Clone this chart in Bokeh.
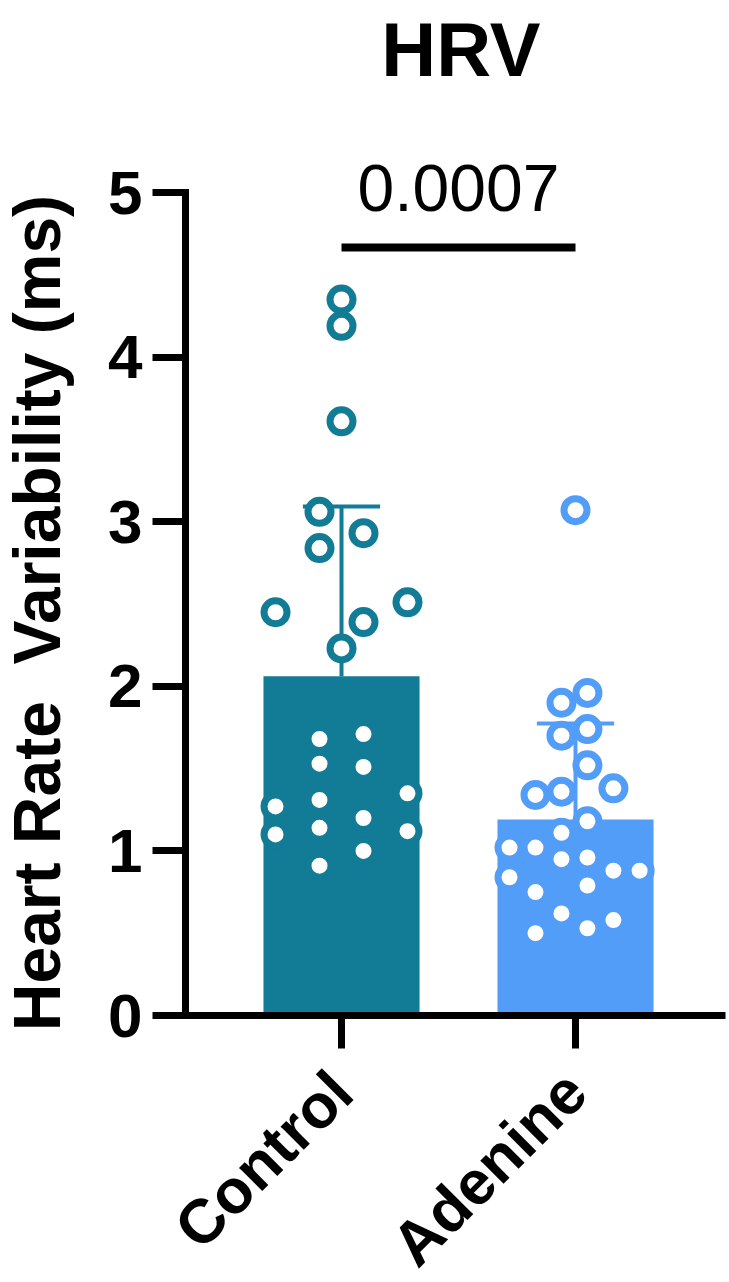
import numpy as np
from bokeh.plotting import figure
from bokeh.models import FixedTicker, ColumnDataSource, Label
from bokeh.embed import file_html
from bokeh.resources import INLINE

# ---- data ----
groups = ["Control", "Adenine"]
group_x = [1, 2]
control_values = [4.35, 4.19, 3.61, 3.06, 2.93, 2.84, 2.45, 2.51, 2.39, 2.23,
                  1.27, 1.10, 1.68, 1.53, 1.31, 1.14, 0.91, 1.71, 1.51, 1.20,
                  1.00, 1.35, 1.12]
control_jitter = [0, 0, 0, -0.094, 0.094, -0.094, -0.282, 0.282, 0.094, 0,
                  -0.282, -0.282, -0.094, -0.094, -0.094, -0.094, -0.094,
                  0.094, 0.094, 0.094, 0.094, 0.282, 0.282]
adenine_values = [3.07, 1.96, 1.90, 1.70, 1.74, 1.52, 1.34, 1.36, 1.38, 1.18,
                  1.11, 1.02, 1.02, 0.95, 0.96, 0.84, 0.88, 0.88, 0.75, 0.79,
                  0.62, 0.58, 0.50, 0.53]
adenine_jitter = [0, 0.051, -0.060, -0.060, 0.051, 0.051, -0.171, -0.060, 0.162,
                  0.051, -0.060, -0.282, -0.171, -0.060, 0.051, -0.282, 0.162,
                  0.274, -0.171, 0.051, -0.060, 0.162, -0.171, 0.051]
p_value_label = "0.0007"
y_ticks = [0, 1, 2, 3, 4, 5]
title_text = "HRV"
y_label = "Heart Rate\u00a0 Variability (ms)"

colors = ["#127B96", "#529DF8"]
FONT = "Liberation Sans"

all_values = [control_values, adenine_values]
all_jitter = [control_jitter, adenine_jitter]
means = [float(np.mean(v)) for v in all_values]
sds = [float(np.std(v, ddof=1)) for v in all_values]

X_AXIS_START = 0.3333
X_AXIS_END = 2.641

p = figure(width=729, height=1282, output_backend="svg", toolbar_location=None,
           x_range=(-0.4573, 2.6581), y_range=(-1.6221, 6.1665),
           min_border=0)
p.outline_line_color = None
p.xgrid.visible = False
p.ygrid.visible = False
p.background_fill_color = "white"
p.border_fill_color = "white"

# bars
p.vbar(x=group_x, top=means, width=0.667, bottom=0, fill_color=colors,
       line_color=None)

# error bars (upper only)
for gx, m, s, c in zip(group_x, means, sds, colors):
    p.segment(x0=[gx], y0=[m], x1=[gx], y1=[m + s], line_color=c, line_width=4)
    p.segment(x0=[gx - 0.165], y0=[m + s], x1=[gx + 0.165], y1=[m + s],
              line_color=c, line_width=4)

# points
for gx, vals, jit, c in zip(group_x, all_values, all_jitter, colors):
    src = ColumnDataSource(dict(x=[gx + j for j in jit], y=vals))
    p.scatter(x="x", y="y", source=src, size=23, marker="circle",
              fill_color="white", line_color=c, line_width=7)

# significance bar and p-value
p.segment(x0=[group_x[0]], y0=[4.666], x1=[group_x[1]], y1=[4.666],
          line_color="black", line_width=8)
p.add_layout(Label(x=1.5, y=5.025, text=p_value_label, text_align="center",
                   text_baseline="alphabetic", text_font=FONT,
                   text_font_size="66px", text_color="black"))

# title
p.add_layout(Label(x=1.51, y=5.87, text=title_text, text_align="center",
                   text_baseline="alphabetic", text_font=FONT,
                   text_font_size="76px", text_font_style="bold",
                   text_color="black"))

# y axis label
p.add_layout(Label(x=-0.2992, y=2.445, text=y_label, angle=np.pi / 2,
                   text_align="center", text_baseline="alphabetic",
                   text_font=FONT, text_font_size="66px",
                   text_font_style="bold", text_color="black"))

# y axis
ya = p.yaxis[0]
ya.fixed_location = X_AXIS_START
ya.bounds = (0, 5)
ya.ticker = FixedTicker(ticks=y_ticks)
ya.axis_line_width = 7
ya.axis_line_color = "black"
ya.axis_line_cap = "square"
ya.major_tick_line_width = 7
ya.major_tick_out = 33
ya.major_tick_in = 0
ya.minor_tick_line_color = None
ya.major_label_text_font = FONT
ya.major_label_text_font_size = "62px"
ya.major_label_text_font_style = "bold"
ya.major_label_text_color = "black"
ya.major_label_standoff = 10

# x axis
xa = p.xaxis[0]
xa.fixed_location = 0
xa.bounds = (X_AXIS_START, X_AXIS_END)
xa.ticker = FixedTicker(ticks=group_x)
xa.major_label_overrides = {gx: g for gx, g in zip(group_x, groups)}
xa.axis_line_width = 7
xa.axis_line_color = "black"
xa.major_tick_line_width = 7
xa.major_tick_out = 33
xa.major_tick_in = 0
xa.minor_tick_line_color = None
xa.major_label_text_font = FONT
xa.major_label_text_font_size = "62px"
xa.major_label_text_font_style = "bold"
xa.major_label_text_color = "black"
xa.major_label_orientation = np.pi / 4
xa.major_label_standoff = 33

open("out.html", "w").write(file_html(p, INLINE))
